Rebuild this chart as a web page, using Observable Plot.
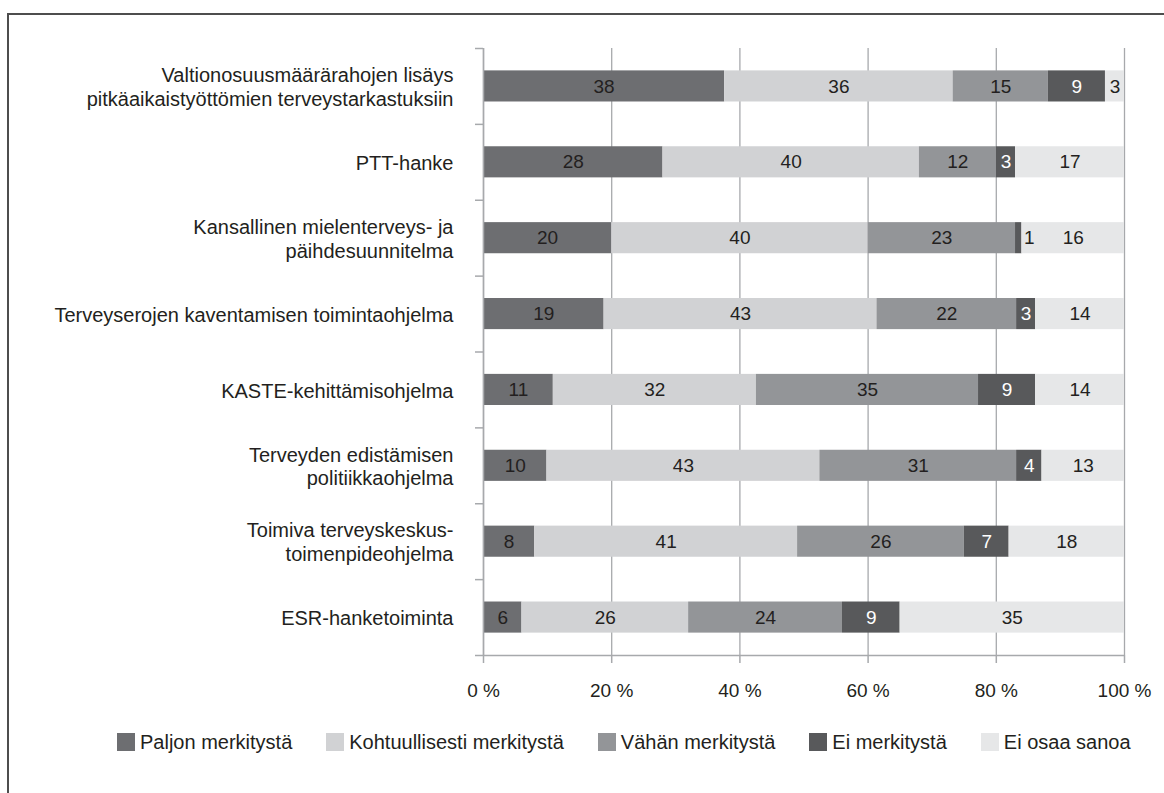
<!DOCTYPE html>
<html><head><meta charset="utf-8">
<script src="https://cdn.jsdelivr.net/npm/d3@7"></script>
<script src="https://cdn.jsdelivr.net/npm/@observablehq/plot@0.6"></script>
<style>
body{margin:0;background:#fff;font-family:"Liberation Sans",Arial,Helvetica,sans-serif;}
#wrap{position:relative;width:1164px;height:793px;overflow:hidden;background:#fff;}
#frame{position:absolute;left:7px;top:13px;width:1300px;height:900px;border-left:2px solid #4d4d4d;border-top:2px solid #4d4d4d;}
#chart{position:absolute;left:0;top:0;}
#legend{position:absolute;left:117px;top:733px;display:flex;gap:34px;font-size:20px;color:#231f20;line-height:18px;}
.item{display:flex;align-items:center;white-space:nowrap;}
.sw{width:18px;height:18px;margin-right:5px;flex:none;}
</style></head><body>
<div id="wrap"><div id="frame"></div><div id="chart"></div><div id="legend"></div></div>
<script>
const categories = [
  "Valtionosuusmäärärahojen lisäys\npitkäaikaistyöttömien terveystarkastuksiin",
  "PTT-hanke",
  "Kansallinen mielenterveys- ja\npäihdesuunnitelma",
  "Terveyserojen kaventamisen toimintaohjelma",
  "KASTE-kehittämisohjelma",
  "Terveyden edistämisen\npolitiikkaohjelma",
  "Toimiva terveyskeskus-\ntoimenpideohjelma",
  "ESR-hanketoiminta"
];
const series = ["Paljon merkitystä", "Kohtuullisesti merkitystä", "Vähän merkitystä", "Ei merkitystä", "Ei osaa sanoa"];
const seriesColors = ["#6d6e71", "#d1d2d4", "#939598", "#58595b", "#e6e7e8"];
const paljon = [38, 28, 20, 19, 11, 10, 8, 6];
const kohtuullisesti = [36, 40, 40, 43, 32, 43, 41, 26];
const vahan = [15, 12, 23, 22, 35, 31, 26, 24];
const eiMerkitysta = [9, 3, 1, 3, 9, 4, 7, 9];
const eiOsaa = [3, 17, 16, 14, 14, 13, 18, 35];
const xTicks = [0, 20, 40, 60, 80, 100];

const valuesBySeries = [paljon, kohtuullisesti, vahan, eiMerkitysta, eiOsaa];
const colorOf = Object.fromEntries(series.map((s, i) => [s, seriesColors[i]]));
const rows = categories.flatMap((c, i) => series.map((s, j) => ({category: c, series: s, value: valuesBySeries[j][i]})));

const axisColor = "#a7a9ac";
const textColor = "#231f20";
const plotTop = 48, plotBottom = 655, svgH = 720;
const step = (plotBottom - plotTop) / categories.length;
const tickVals = xTicks.map(t => t / 100);
const tiny = d => d.value < 2;

const chart = Plot.plot({
  width: 1164, height: svgH,
  marginTop: plotTop, marginBottom: svgH - plotBottom, marginLeft: 483, marginRight: 40,
  style: {fontFamily: '"Liberation Sans", Arial, Helvetica, sans-serif', fontSize: "20px", color: textColor, background: "transparent"},
  x: {domain: [0, 1]},
  y: {domain: categories, paddingInner: 0.59, paddingOuter: 0.295, round: false},
  color: {type: "identity"},
  marks: [
    Plot.gridX(tickVals, {stroke: axisColor, strokeOpacity: 1, strokeWidth: 1.3}),
    Plot.barX(rows, Plot.stackX({x: "value", y: "category", fill: d => colorOf[d.series], offset: "normalize"})),
    Plot.text(rows, Plot.stackX({
      x: "value", y: "category", offset: "normalize",
      text: d => tiny(d) ? "" : String(d.value),
      fill: d => d.series === series[3] ? "#ffffff" : textColor,
      fontSize: 19
    })),
    Plot.text(rows, Plot.stackX2({
      x: "value", y: "category", offset: "normalize",
      text: d => tiny(d) ? String(d.value) : "",
      fill: textColor, textAnchor: "start", dx: 2,
      fontSize: 19
    })),
    Plot.ruleX([0], {stroke: axisColor, strokeWidth: 1.5}),
    Plot.ruleY([categories[categories.length - 1]], {x1: 0, x2: 1, dy: step / 2, stroke: axisColor, strokeWidth: 1.5}),
    Plot.axisX(tickVals, {tickFormat: d => Math.round(d * 100) + " %", tickSize: 8, tickPadding: 20, stroke: axisColor, strokeWidth: 1.5, fill: textColor, fontSize: 19, label: null}),
    Plot.axisY({tickSize: 0, tickPadding: 30, fontSize: 20, lineHeight: 1.2, fill: textColor, label: null}),
    Plot.axisY({tickSize: 8, tickFormat: () => "", dy: -step / 2, stroke: axisColor, strokeWidth: 1.5, label: null}),
    Plot.axisY([categories[categories.length - 1]], {tickSize: 8, tickFormat: () => "", dy: step / 2, stroke: axisColor, strokeWidth: 1.5, label: null})
  ]
});
document.getElementById("chart").appendChild(chart);

const legend = document.getElementById("legend");
series.forEach((s, i) => {
  const item = document.createElement("div");
  item.className = "item";
  const sw = document.createElement("span");
  sw.className = "sw";
  sw.style.background = seriesColors[i];
  const lab = document.createElement("span");
  lab.textContent = s;
  item.appendChild(sw); item.appendChild(lab);
  legend.appendChild(item);
});
</script>
</body></html>
